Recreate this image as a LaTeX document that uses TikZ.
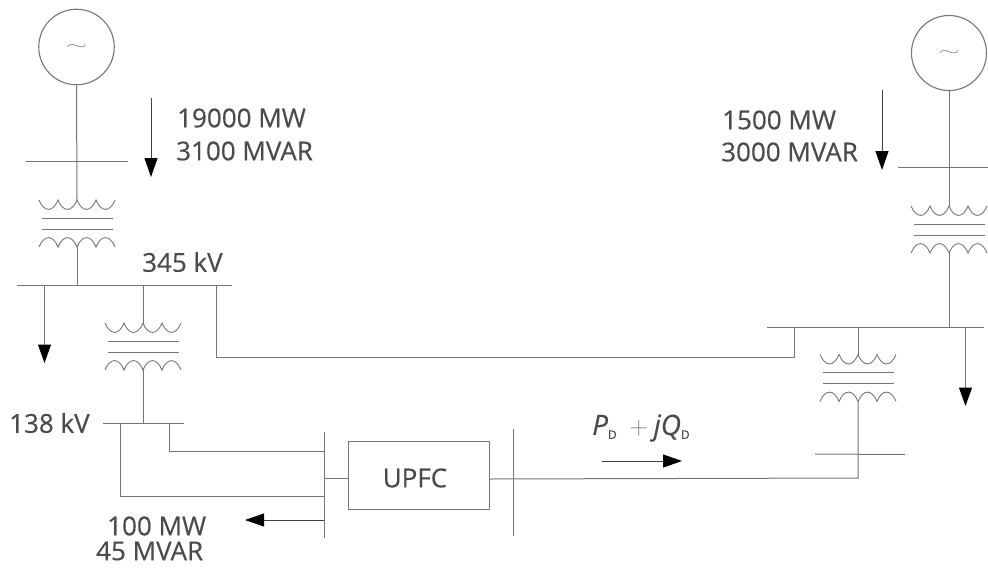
\documentclass[tikz,border=0pt]{standalone}
\usepackage{fontspec}
\setmainfont{Open Sans}[FakeBold=0.3]
\usetikzlibrary{arrows.meta}
\definecolor{wire}{HTML}{757575}
\definecolor{ink}{HTML}{4A4A4A}
\tikzset{
  wirepath/.style={draw=wire,line width=1pt},
  flow/.style={wirepath,-{Triangle[length=18.5pt,width=13pt,black]}},
  flowdark/.style={draw=black!75,line width=1pt,-{Triangle[length=19pt,width=13pt,black]}},
  lbl/.style={text=ink,font=\fontsize{26}{28}\selectfont,inner sep=0pt,anchor=west},
  gen/.style={circle,draw=wire,line width=1.1pt,minimum size=#1,inner sep=0pt,font=\fontsize{22}{24}\selectfont,text=wire},
  box/.style={rectangle,draw=wire,line width=1pt,minimum width=141pt,minimum height=68pt,inner sep=0pt,text=ink,font=\fontsize{24}{28}\selectfont},
  pics/xfmr/.style={code={
    \coordinate (-top) at (0,0);
    \coordinate (-bot) at (0,47);
    \draw[wirepath,line width=.9pt] (-38,0) .. controls (-33,12.5) and (-24,12.5) .. (-19,0)
      .. controls (-14,12.5) and (-5,12.5) .. (0,0)
      .. controls (5,12.5) and (14,12.5) .. (19,0)
      .. controls (24,12.5) and (33,12.5) .. (38,0);
    \draw[wirepath] (-35.5,18) -- (35.5,18);
    \draw[wirepath] (-35.5,29) -- (35.5,29);
    \draw[wirepath,line width=.9pt] (-38,47) .. controls (-33,34.5) and (-24,34.5) .. (-19,47)
      .. controls (-14,34.5) and (-5,34.5) .. (0,47)
      .. controls (5,34.5) and (14,34.5) .. (19,47)
      .. controls (24,34.5) and (33,34.5) .. (38,47);
  }}
}
\begin{document}
\begin{tikzpicture}[x=1pt,y=-1pt]
\useasboundingbox (0,0) rectangle (988,568);
% generators
\node[gen=75.5pt] (G1) at (76.5,47) {\scalebox{1.3}[0.65]{$\sim$}};
\node[gen=75pt] (G2) at (949,53) {\scalebox{1.3}[0.65]{$\sim$}};
% transformers
\pic (T1) at (77,200) {xfmr};
\pic (T2) at (143,323) {xfmr};
\pic (T3) at (949,206) {xfmr};
\pic (T4) at (858,354.5) {xfmr};
% UPFC
\node[box] (U) at (418.5,475) {};
\node[text=ink,font=\fontsize{26}{28}\selectfont,inner sep=0pt] (UL) at (415,478) {UPFC};
% bus end points
\coordinate (b1a) at (26,161.5); \coordinate (b1b) at (128,161.5);
\coordinate (b2a) at (17,285); \coordinate (b2b) at (232,285);
\coordinate (b3a) at (103,423.5); \coordinate (b3b) at (184,423.5);
\coordinate (b4a) at (898,167); \coordinate (b4b) at (988,167);
\coordinate (b5a) at (767,327); \coordinate (b5b) at (984,327);
\coordinate (b6a) at (815,454); \coordinate (b6b) at (905,454.5);
\coordinate (v1a) at (324,432); \coordinate (v1b) at (324,538);
\coordinate (v2a) at (513.5,429); \coordinate (v2b) at (513.5,536);
\foreach \s/\e in {b1a/b1b,b2a/b2b,b3a/b3b,b4a/b4b,b5a/b5b,b6a/b6b,v1a/v1b,v2a/v2b}
  \draw[wirepath] (\s) -- (\e);
% generator to transformer and bus
\draw[wirepath] (G1.south) -- (T1-top);
\draw[wirepath] (T1-bot) -- (T1-bot |- b2a);
\draw[wirepath] (T2-top |- b2a) -- (T2-top);
\draw[wirepath] (T2-bot) -- (T2-bot |- b3a);
\draw[wirepath] (G2.south) -- (T3-top);
\draw[wirepath] (T3-bot) -- (T3-bot |- b5a);
\draw[wirepath] (T4-top |- b5a) -- (T4-top);
% tie line
\coordinate (tieA) at (216.5,285); \coordinate (tieB) at (794,327);
\draw[wirepath] (tieA) -- (216.5,357) -- (794,357) -- (tieB);
% 138 kV to UPFC
\coordinate (c1) at (169,423.5); \coordinate (c2) at (120,423.5);
\draw[wirepath] (c1) -- (169,451) -- (324,451);
\draw[wirepath] (c2) -- (120,496.5) -- (324,496.5);
\draw[wirepath] (324,478) -- (U.west |- 0,478);
% UPFC to right transformer
\coordinate (c3) at (858,478);
\draw[wirepath] (U.east |- 0,479) -- (c3) -- (T4-bot);
% arrows
\coordinate (a1a) at (151,98); \coordinate (a1b) at (151,177);
\coordinate (a2a) at (882,90); \coordinate (a2b) at (882,170);
\coordinate (a3a) at (44.5,285); \coordinate (a3b) at (44.5,363);
\coordinate (a4a) at (965.5,327); \coordinate (a4b) at (965.5,406);
\coordinate (a5a) at (324,520); \coordinate (a5b) at (245,520);
\coordinate (a6a) at (602,461); \coordinate (a6b) at (682,461);
\draw[flowdark] (a1a) -- (a1b);
\draw[flowdark] (a2a) -- (a2b);
\draw[flow] (a3a) -- (a3b);
\draw[flow] (a4a) -- (a4b);
\draw[flowdark] (a5a) -- (a5b);
\draw[flowdark] (a6a) -- (a6b);
% labels
\node[lbl] (t1) at (177,118) {19000 MW};
\node[lbl] (t2) at (176,151) {3100 MVAR};
\node[lbl] (t3) at (722,120) {1500 MW};
\node[lbl] (t4) at (721,152) {3000 MVAR};
\node[lbl] (t5) at (142,262) {345 kV};
\node[lbl] (t6) at (9,423) {138 kV};
\node[lbl] (t7) at (107,526) {100 MW};
\node[lbl] (t8) at (96,551) {45 MVAR};
\node[lbl] (t9) at (592,428) {\fontsize{28}{28}\selectfont\textit{P}\raisebox{-4pt}{\fontsize{12}{12}\selectfont D}\hspace{13pt}{\color{ink!70}$+$}\hspace{6pt}\textit{jQ}\raisebox{-4pt}{\fontsize{12}{12}\selectfont D}};
\end{tikzpicture}
\end{document}
